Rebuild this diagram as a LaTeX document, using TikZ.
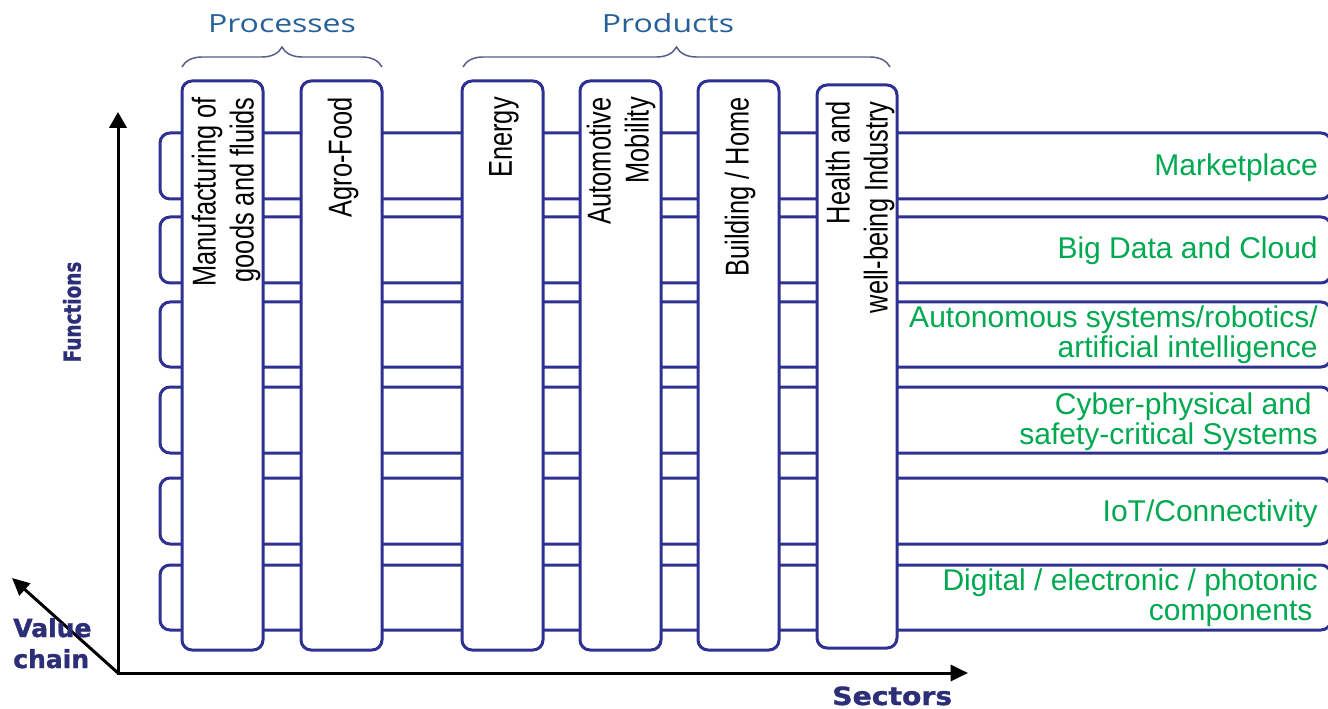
\documentclass[tikz,border=0pt]{standalone}
\usepackage{fontspec}
\setmainfont{Liberation Sans}
\newfontfamily\headfont{Open Sans}
\newfontfamily\axisfont{DejaVu Sans}[BoldFeatures={FakeBold=1.3}]
\usetikzlibrary{arrows.meta,decorations.pathreplacing}
\definecolor{frameblue}{RGB}{46,49,146}
\definecolor{fungreen}{RGB}{0,168,80}
\definecolor{headblue}{RGB}{38,96,153}
\definecolor{bracegray}{RGB}{88,90,140}
\definecolor{axisnavy}{RGB}{44,46,120}
\newcommand{\narrow}[1]{\scalebox{0.77}[1]{#1}}

\tikzset{
  rowbox/.style={draw=frameblue, line width=2.25pt, rounded corners=7.5pt},
  colbox/.style={draw=frameblue, fill=white, line width=2.25pt, rounded corners=7.5pt},
  collabel/.style={rotate=90, anchor=east, inner sep=0pt, align=right,
    font=\fontsize{24.75}{28.5}\selectfont},
  rowlabel/.style={anchor=base east, inner sep=0pt, align=right, text=fungreen,
    font=\fontsize{22.5}{22.5}\selectfont},
  headlabel/.style={anchor=base, inner sep=0pt, text=headblue,
    font=\headfont\fontsize{18.75}{22}\selectfont},
  headbrace/.style={draw=bracegray, line width=1.1pt,
    decorate, decoration={brace, amplitude=15pt}},
  axislabel/.style={inner sep=0pt, text=axisnavy,
    font=\axisfont\bfseries\fontsize{18.75}{23.25}\selectfont},
  axis/.style={line width=2.25pt, {Triangle[length=12pt,width=13pt]}-{Triangle[length=13pt,width=12pt]}},
  valaxis/.style={line width=2.25pt, -{Triangle[length=13pt,width=12pt]}}
}

\begin{document}
\begin{tikzpicture}[x=0.75pt, y=-0.75pt]
\useasboundingbox (0,0) rectangle (1328,709);

% Function layers
\draw[rowbox] (160,133) rectangle (1331,199);
\draw[rowbox] (160,217) rectangle (1331,283);
\draw[rowbox] (160,302) rectangle (1331,367);
\draw[rowbox] (160,387) rectangle (1331,453);
\draw[rowbox] (160,478) rectangle (1331,544);
\draw[rowbox] (160,565) rectangle (1331,630);

% (multi-line labels sit on their last line)
\node[rowlabel] (market) at (1318,176) {Marketplace};
\node[rowlabel] (bigdata) at (1318,259) {Big Data and Cloud};
\node[rowlabel] (auton) at (1318,358) {Autonomous systems/robotics/\\artificial intelligence};
\node[rowlabel] (cyber) at (1318,444) {Cyber-physical and\hspace*{4.5pt}\\safety-critical Systems};
\node[rowlabel] (iot) at (1318,521) {IoT/Connectivity};
\node[rowlabel] (digital) at (1318,620) {Digital / electronic / photonic\\components\hspace*{4pt}};

% Sector columns
\draw[colbox] (182,81) rectangle (263,650);
\draw[colbox] (301,81) rectangle (382,650);
\draw[colbox] (462,81) rectangle (543,650);
\draw[colbox] (580,81) rectangle (661,650);
\draw[colbox] (698,81) rectangle (779,650);
\draw[colbox] (817,85) rectangle (897,648);

\node[collabel] (manuf) at (226,97) {\narrow{Manufacturing of}\\\narrow{goods and fluids}};
\node[collabel] (agro) at (343,97) {\narrow{Agro-Food}};
\node[collabel] (energy) at (504,97) {\narrow{Energy}};
\node[collabel] (auto) at (621,97) {\narrow{Automotive}\\\narrow{Mobility}};
\node[collabel] (build) at (740,97) {\narrow{Building / Home}};
\node[collabel] (health) at (860,101) {\narrow{Health and}\\\narrow{well-being Industry}};

% Groups on top
\draw[headbrace] (182,67) -- (382,67);
\draw[headbrace] (463,67) -- (890,67);
\node[headlabel] (proc) at (282,33) {\scalebox{1.28}[1]{Processes}};
\node[headlabel] (prod) at (668,33) {\scalebox{1.28}[1]{Products}};

% Axes
\coordinate (origin) at (118,673);
\coordinate (funtip) at (118,112);
\coordinate (sectip) at (968,673);
\coordinate (valtip) at (12,578);
\draw[axis] (funtip) -- (origin) -- (sectip);
\draw[valaxis] (origin) -- (valtip);

\node[axislabel, rotate=90] (functions) at (72,312) {\fontsize{17.5}{20}\selectfont\scalebox{0.79}[1]{Functions}};
\node[axislabel, anchor=base west, align=left] (value) at (13,668) {Value\\chain};
\node[axislabel, anchor=base west] (sectors) at (832,705) {\scalebox{1.13}[1]{Sectors}};
\end{tikzpicture}
\end{document}
